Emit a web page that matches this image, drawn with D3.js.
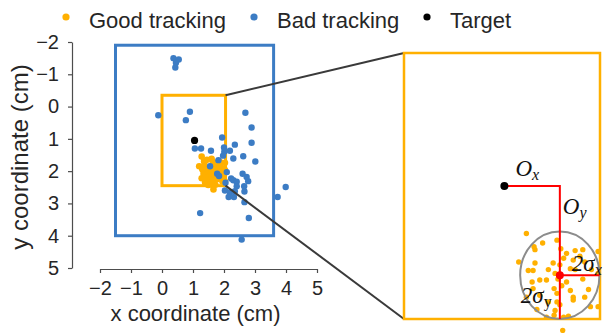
<!DOCTYPE html>
<html>
<head>
<meta charset="utf-8">
<script src="https://cdn.jsdelivr.net/npm/d3@7"></script>
<style>
  body { margin: 0; background: #fff; }
  svg text { font-family: "Liberation Sans", Arial, sans-serif; fill: #262626; }
  .math { font-family: "Liberation Serif", "DejaVu Serif", serif; font-style: italic; fill: #111; }
</style>
</head>
<body>
<div id="chart"></div>
<script>
// good tracking samples (cm)
const goodX = [1.28, 1.60, 1.36, 1.45, 1.37, 1.64, 1.70, 1.79, 1.87, 2.03, 1.20, 1.37, 1.56, 1.67, 1.77, 1.84, 1.89,
  1.30, 1.35, 1.51, 1.58, 1.74, 1.79, 1.96, 2.03, 1.34, 1.42, 1.49, 1.61, 1.70, 1.87, 1.35, 1.57, 1.65, 1.74, 1.93,
  1.28, 1.42, 1.60, 1.77, 1.89, 1.51, 1.60, 1.77, 2.03, 1.39, 1.58, 1.95, 1.49, 1.57, 1.67, 1.72, 1.66, 1.63, 1.63];
const goodY = [1.55, 1.62, 1.69, 1.65, 1.72, 1.71, 1.76, 1.73, 1.72, 1.74, 1.85, 1.86, 1.86, 1.81, 1.83, 1.79, 1.85,
  1.94, 1.94, 1.93, 1.97, 1.92, 1.93, 1.93, 1.97, 2.06, 2.04, 2.04, 2.03, 2.06, 2.03, 2.13, 2.13, 2.10, 2.15, 2.14,
  2.22, 2.20, 2.18, 2.22, 2.22, 2.27, 2.27, 2.25, 2.32, 2.35, 2.36, 2.32, 2.43, 2.41, 2.43, 2.42, 2.57, 1.88, 2.30];
// bad tracking samples (cm)
const badX = [0.37, 0.54, 0.45, 0.43, -0.12, 0.90, 0.77, 2.69, 2.89, 1.94, 2.35, 2.89, 1.06, 1.26, 1.58, 2.00, 2.01,
  2.19, 1.82, 2.30, 2.62, 3.01, 1.55, 1.78, 1.84, 2.09, 2.23, 2.30, 2.41, 2.60, 2.73, 2.78, 2.65, 2.03, 2.19, 2.35,
  2.41, 2.15, 2.32, 2.66, 2.66, 3.99, 3.73, 1.23, 2.80, 2.57, 1.97, 2.05];
const badY = [-1.50, -1.46, -1.36, -1.21, 0.27, 0.16, 0.42, 0.19, 0.65, 0.96, 1.18, 1.12, 1.30, 1.30, 1.37, 1.27, 1.40,
  1.37, 1.66, 1.61, 1.54, 1.70, 1.85, 2.08, 2.15, 2.03, 2.23, 2.28, 2.33, 2.08, 2.18, 2.31, 2.47, 2.60, 2.65, 2.62,
  2.47, 2.80, 2.80, 2.63, 2.96, 2.49, 2.80, 3.30, 3.45, 4.12, 1.52, 2.36];
const target = [1.05, 1.05];
const goodMean = [1.63, 1.99];
const goodTwoSigma = [0.415, 0.46];
// boxes: x0, y0, x1, y1 (cm)
const outerBox = [-1.5, -1.9, 3.6, 4.0];
const zoomBox = [0, -0.35, 2.05, 2.45];
const xTicks = [-2, -1, 0, 1, 2, 3, 4, 5];
const yTicks = [-2, -1, 0, 1, 2, 3, 4, 5];
const legendNames = ['Good tracking', 'Bad tracking', 'Target'];

const orange = '#ffb000';
const blue = '#3c7cc4';
const legendColors = [orange, blue, '#000'];

const width = 606, height = 333;
const svg = d3.select('#chart').append('svg').attr('width', width).attr('height', height);

const x = d3.scaleLinear([-2, 5], [100, 317]);
const y = d3.scaleLinear([-2, 5], [42, 268]);
// right panel = zoom of the orange box
const xz = d3.scaleLinear([zoomBox[0], zoomBox[2]], [404, 600]);
const yz = d3.scaleLinear([zoomBox[1], zoomBox[3]], [53, 319]);

const good = goodX.map((v, i) => [v, goodY[i]]);
const bad = badX.map((v, i) => [v, badY[i]]);

// axes
function styleAxis(g) {
  g.attr('font-size', 20).attr('font-family', null);
  g.selectAll('.domain, .tick line').attr('stroke', '#4d4d4d').attr('stroke-width', 1.2);
  g.selectAll('.tick text').attr('fill', '#262626');
}
svg.append('g')
  .attr('transform', 'translate(0,269)')
  .call(d3.axisBottom(x).tickValues(xTicks).tickFormat(d3.format('d'))
    .tickSizeOuter(0).tickSizeInner(4).tickPadding(8))
  .call(styleAxis);
svg.append('g')
  .attr('transform', 'translate(72,0)')
  .call(d3.axisLeft(y).tickValues(yTicks).tickFormat(d3.format('d'))
    .tickSizeOuter(0).tickSizeInner(4).tickPadding(9))
  .call(styleAxis);

svg.append('text')
  .attr('x', (x.range()[0] + x.range()[1]) / 2 - 13)
  .attr('y', 321)
  .attr('text-anchor', 'middle')
  .attr('font-size', 22)
  .text('x coordinate (cm)');
svg.append('text')
  .attr('transform', 'translate(28,157) rotate(-90)')
  .attr('text-anchor', 'middle')
  .attr('font-size', 24)
  .text('y coordinate (cm)');

// boxes
function box(g, b, sx, sy, color, w) {
  g.append('rect')
    .attr('x', sx(b[0])).attr('y', sy(b[1]))
    .attr('width', sx(b[2]) - sx(b[0])).attr('height', sy(b[3]) - sy(b[1]))
    .attr('fill', 'none').attr('stroke', color).attr('stroke-width', w);
}
box(svg, outerBox, x, y, blue, 3);
box(svg, zoomBox, x, y, orange, 3);

// left points
svg.append('g').selectAll('circle').data(good).join('circle')
  .attr('cx', d => x(d[0])).attr('cy', d => y(d[1])).attr('r', 3.3).attr('fill', orange);
svg.append('g').selectAll('circle').data(bad).join('circle')
  .attr('cx', d => x(d[0])).attr('cy', d => y(d[1])).attr('r', 3.2).attr('fill', blue);
svg.append('circle').attr('cx', x(target[0])).attr('cy', y(target[1])).attr('r', 3.6).attr('fill', '#000');

// connector lines
svg.append('g').attr('stroke', '#3a3a3a').attr('stroke-width', 2)
  .selectAll('line').data([zoomBox[1], zoomBox[3]]).join('line')
  .attr('x1', x(zoomBox[2])).attr('y1', d => y(d))
  .attr('x2', xz(zoomBox[0])).attr('y2', d => yz(d));

// right panel
box(svg, zoomBox, xz, yz, orange, 2.5);
svg.append('g').selectAll('circle').data(good).join('circle')
  .attr('cx', d => xz(d[0])).attr('cy', d => yz(d[1])).attr('r', 2.7).attr('fill', orange);
svg.append('ellipse')
  .attr('cx', xz(goodMean[0])).attr('cy', yz(goodMean[1]))
  .attr('rx', xz(goodMean[0] + goodTwoSigma[0]) - xz(goodMean[0]))
  .attr('ry', yz(goodMean[1] + goodTwoSigma[1]) - yz(goodMean[1]))
  .attr('fill', 'none').attr('stroke', '#8c8c8c').attr('stroke-width', 2);
const red = svg.append('g').attr('stroke', '#ff0000').attr('stroke-width', 2).attr('fill', 'none');
red.append('path').attr('d', d3.line()([
  [xz(target[0]), yz(target[1])],
  [xz(goodMean[0]), yz(target[1])],
  [xz(goodMean[0]), yz(goodMean[1] + goodTwoSigma[1])]
]));
red.append('line')
  .attr('x1', xz(goodMean[0])).attr('y1', yz(goodMean[1]))
  .attr('x2', xz(goodMean[0] + goodTwoSigma[0])).attr('y2', yz(goodMean[1]));
svg.append('circle').attr('cx', xz(target[0])).attr('cy', yz(target[1])).attr('r', 4).attr('fill', '#000');
svg.append('circle').attr('cx', xz(goodMean[0])).attr('cy', yz(goodMean[1])).attr('r', 4).attr('fill', '#ff0000');

// math labels
function mathLabel(px, py, main, sub, subItalic) {
  const t = svg.append('text').attr('class', 'math').attr('x', px).attr('y', py).attr('font-size', 23);
  t.append('tspan').text(main);
  t.append('tspan').attr('dy', 4).attr('font-size', 16)
    .attr('font-style', subItalic ? 'italic' : 'normal').text(sub);
}
mathLabel(xz(target[0]) + 11, yz(target[1]) - 10, 'O', 'x', true);
mathLabel(xz(goodMean[0]) + 3, 214, 'O', 'y', true);
mathLabel(xz(goodMean[0]) + 12, yz(goodMean[1]) - 4, '2σ', 'x', true);
mathLabel(xz(goodMean[0]) - 39, 303, '2σ', 'y', false);

// legend
const lx = [66, 254, 427];
const legend = svg.append('g').selectAll('g').data(legendNames).join('g')
  .attr('transform', (d, i) => `translate(${lx[i]},17)`);
legend.append('circle').attr('r', 3.6).attr('fill', (d, i) => legendColors[i]);
legend.append('text').attr('x', 23).attr('y', 10.5).attr('font-size', 22).text(d => d);
</script>
</body>
</html>
